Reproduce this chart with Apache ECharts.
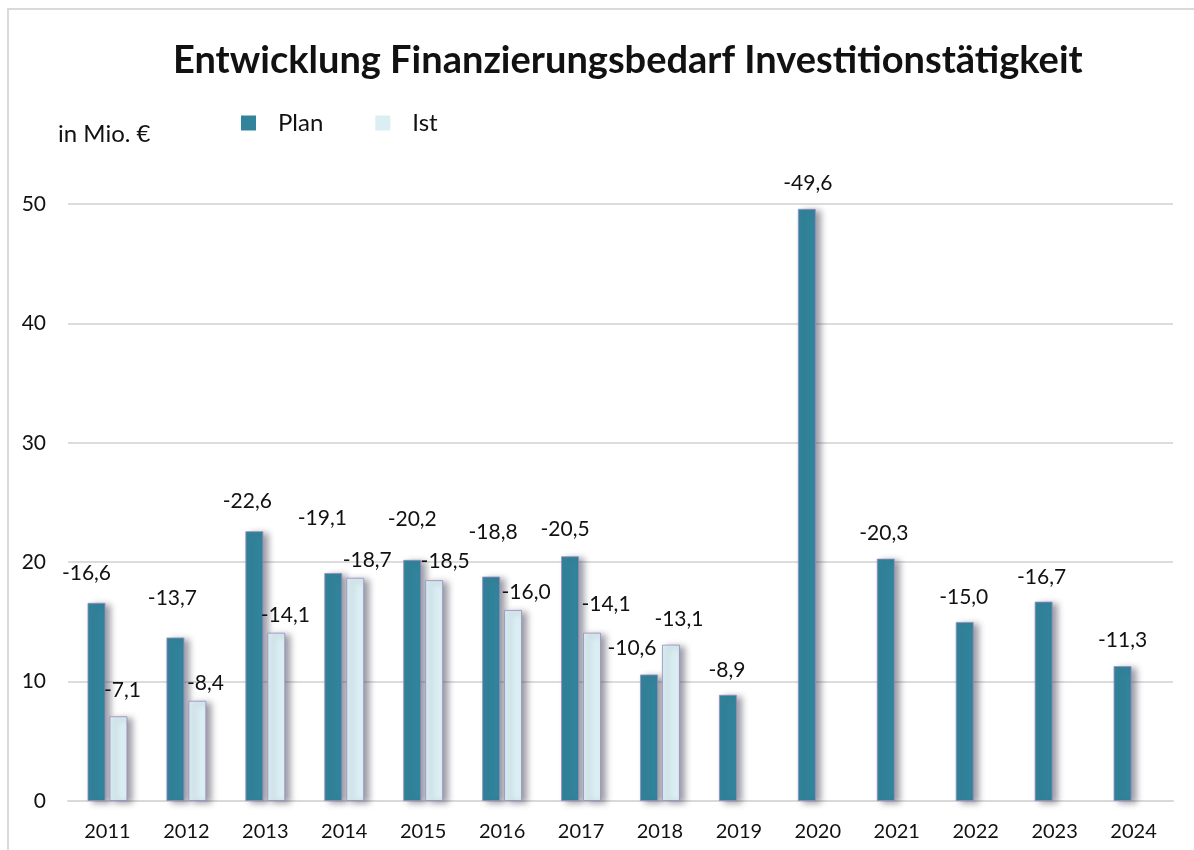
<!DOCTYPE html>
<html>
<head>
<meta charset="utf-8">
<script src="https://cdn.jsdelivr.net/npm/echarts@6/dist/echarts.min.js"></script>
<style>
  html, body { margin: 0; padding: 0; background: #fff; }
  #chart { width: 1194px; height: 850px; }
</style>
</head>
<body>
<div id="chart"></div>
<script>
const years = ['2011', '2012', '2013', '2014', '2015', '2016', '2017', '2018', '2019', '2020', '2021', '2022', '2023', '2024'];
const planValues = [16.6, 13.7, 22.6, 19.1, 20.2, 18.8, 20.5, 10.6, 8.9, 49.6, 20.3, 15.0, 16.7, 11.3];
const istValues = [7.1, 8.4, 14.1, 18.7, 18.5, 16.0, 14.1, 13.1, null, null, null, null, null, null];
const yTicks = [0, 10, 20, 30, 40, 50];

// label nudges (Excel placed the labels by hand)
const planLabelOffsets = [[-10, -19], [-3, -29], [-7, -19], [-11, -44], [0, -30], [2, -34], [-5, -16],
  [-17, -16], [-1, -14], [1, -15], [-2, -15], [-1, -14], [-2, -14], [0, -15]];
const istLabelOffsets = [[4, -15], [8, -7], [9, -7], [12, -7], [11, -8], [13, -7], [14, -18], [8, -15]];

const FONT = 'Lato, "Noto Sans", sans-serif';
const fmt = (v) => '-' + v.toFixed(1).replace('.', ',');

function withLabels(values, offsets) {
  return values.map((v, i) => {
    if (v == null) return null;
    return { value: v, label: { offset: offsets[i] || [0, -12] } };
  });
}

const barStyle = (color) => ({
  color: color,
  borderColor: 'rgba(150,140,190,0.8)',
  borderWidth: 1,
  shadowColor: 'rgba(60,60,80,0.5)',
  shadowBlur: 6,
  shadowOffsetX: 5,
  shadowOffsetY: 2
});

const chart = echarts.init(document.getElementById('chart'));

chart.setOption({
  backgroundColor: '#ffffff',
  animation: false,
  title: {
    text: 'Entwicklung Finanzierungsbedarf Investitionstätigkeit',
    left: 168,
    top: 37,
    textStyle: { fontFamily: FONT, fontSize: 38, fontWeight: 'bold', color: '#111' }
  },
  legend: {
    left: 236,
    top: 106,
    itemWidth: 15,
    itemHeight: 15,
    itemGap: 52,
    icon: 'rect',
    itemStyle: { borderWidth: 0, shadowBlur: 0, shadowOffsetX: 0, shadowOffsetY: 0 },
    textStyle: { fontFamily: FONT, fontSize: 24, color: '#111', padding: [0, 0, 0, 17] },
    data: ['Plan', 'Ist']
  },
  graphic: [
    {
      type: 'rect',
      shape: { x: 8, y: 9, width: 1220, height: 900 },
      style: { fill: 'none', stroke: '#dadada', lineWidth: 2 },
      silent: true
    },
    {
      type: 'text',
      left: 58,
      top: 122,
      style: { text: 'in Mio. €', font: '24px ' + FONT, fill: '#111' }
    }
  ],
  grid: { left: 68, right: 21, top: 204, bottom: 49 },
  xAxis: {
    type: 'category',
    data: years,
    axisLine: { lineStyle: { color: '#d9d9d9', width: 2 } },
    axisTick: { show: false },
    axisLabel: { fontFamily: FONT, fontSize: 20, color: '#111', margin: 21 }
  },
  yAxis: {
    type: 'value',
    min: yTicks[0],
    max: yTicks[yTicks.length - 1],
    interval: 10,
    axisLine: { show: false },
    axisTick: { show: false },
    axisLabel: { fontFamily: FONT, fontSize: 21, color: '#111', margin: 22 },
    splitLine: { lineStyle: { color: '#dcdcdc', width: 2 } }
  },
  series: [
    {
      name: 'Plan',
      type: 'bar',
      barWidth: 18,
      barGap: '22%',
      data: withLabels(planValues, planLabelOffsets),
      itemStyle: barStyle('#31849b'),
      label: {
        show: true,
        position: 'top',
        distance: 0,
        fontFamily: FONT,
        fontSize: 21,
        color: '#111',
        formatter: (p) => fmt(p.value)
      }
    },
    {
      name: 'Ist',
      type: 'bar',
      barWidth: 18,
      data: withLabels(istValues, istLabelOffsets),
      itemStyle: barStyle('#daeef3'),
      label: {
        show: true,
        position: 'top',
        distance: 0,
        fontFamily: FONT,
        fontSize: 21,
        color: '#111',
        formatter: (p) => fmt(p.value)
      }
    }
  ]
});
</script>
</body>
</html>
